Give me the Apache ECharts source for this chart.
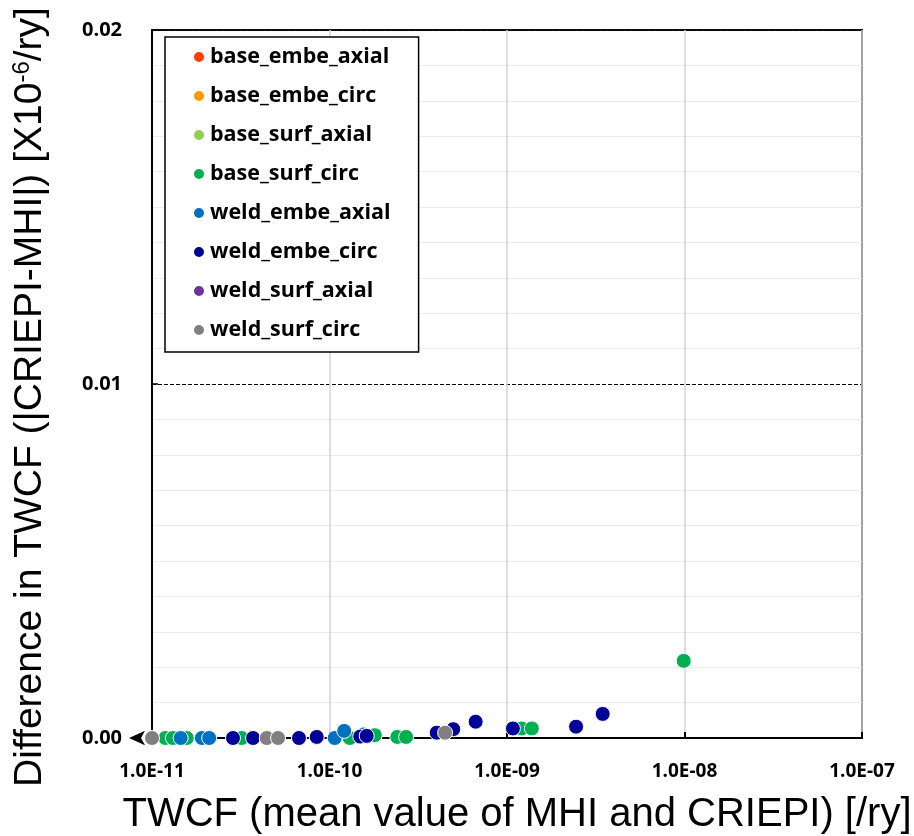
<!DOCTYPE html>
<html><head><meta charset="utf-8">
<script src="https://cdn.jsdelivr.net/npm/echarts@6/dist/echarts.min.js"></script>
<style>html,body{margin:0;padding:0;background:#fff}#c{width:914px;height:836px}</style>
</head><body><div id="c"></div>
<script>
// ---- data (x: TWCF mean [/ry], y: |CRIEPI-MHI| [x10^-6/ry]) ----
const seriesNames = ['base_embe_axial','base_embe_circ','base_surf_axial','base_surf_circ','weld_embe_axial','weld_embe_circ','weld_surf_axial','weld_surf_circ'];
const seriesColors = ['#FF3D00','#FF9900','#92D050','#00B050','#0070C0','#000099','#7030A0','#808080'];
const base_embe_axial = [];
const base_embe_circ = [];
const base_surf_axial = [];
const base_surf_circ = [[1.19e-11,0],[1.31e-11,0],[1.57e-11,0],[3.2e-11,0],[1.30e-10,0],[1.80e-10,0.00008],[2.41e-10,0.00003],[2.70e-10,0.00003],[1.21e-9,0.00027],[1.38e-9,0.00027],[9.9e-9,0.00218]];
const weld_embe_axial = [[1.45e-11,0],[1.91e-11,0],[2.1e-11,0],[1.07e-10,0],[1.21e-10,0.0002],[1.55e-10,0.0001]];
const weld_embe_circ = [[2.86e-11,0],[3.71e-11,0],[6.73e-11,0],[8.47e-11,0.00003],[1.49e-10,0.00004],[1.62e-10,0.00006],[4.02e-10,0.00015],[4.98e-10,0.00025],[6.66e-10,0.00046],[1.08e-9,0.00027],[2.45e-9,0.00032],[3.46e-9,0.00068]];
const weld_surf_axial = [];
const weld_surf_circ = [[1.0e-11,0],[4.43e-11,0],[5.13e-11,0],[4.48e-10,0.00015]];
const seriesData = [base_embe_axial,base_embe_circ,base_surf_axial,base_surf_circ,weld_embe_axial,weld_embe_circ,weld_surf_axial,weld_surf_circ];
const xTickLabels = ['1.0E-11','1.0E-10','1.0E-09','1.0E-08','1.0E-07'];
const yTickLabels = ['0.00','0.01','0.02'];
const xTitle = 'TWCF (mean value of MHI and CRIEPI) [/ry]';
const yTitleA = 'Difference in TWCF (|CRIEPI-MHI|) [X10';
const yTitleSup = '-6';
const yTitleB = '/ry]';

// minor log gridline positions (2..9 x each decade)
const minorX = [];
for (let e = -11; e <= -8; e++) for (let m = 2; m <= 9; m++) minorX.push({xAxis: m * Math.pow(10, e)});

const chart = echarts.init(document.getElementById('c'), null, {renderer: 'canvas'});
const tickFont = {fontFamily: 'Open Sans', fontWeight: 'bold', color: '#000'};
const series = seriesNames.map((n, i) => ({
  name: n, type: 'scatter', data: seriesData[i], symbol: 'circle', symbolSize: 15, z: 3,
  itemStyle: {color: seriesColors[i], borderColor: '#fff', borderWidth: 1, opacity: 1}
}));
series.unshift({
  name: '_grid', type: 'scatter', data: [], z: 1, silent: true,
  markLine: {silent: true, symbol: 'none', label: {show: false}, animation: false,
    lineStyle: {color: '#ececec', width: 1, type: 'solid'}, data: minorX}
});
chart.setOption({
  animation: false,
  grid: {left: 152, right: 52, top: 30, bottom: 98, containLabel: false, outerBoundsMode: 'none',
    show: true, borderColor: '#111', borderWidth: 2, backgroundColor: 'transparent'},
  legend: {
    data: seriesNames, orient: 'vertical', left: 165, top: 37, icon: 'circle', itemWidth: 12, itemHeight: 12,
    itemGap: 17, padding: [9, 28, 11, 27], borderColor: '#000', borderWidth: 1.5, backgroundColor: '#fff',
    textStyle: {fontFamily: 'Open Sans', fontWeight: 'bold', fontSize: 21.5, color: '#000'}
  },
  xAxis: {
    type: 'log', logBase: 10, min: 1e-11, max: 1e-7,
    name: xTitle, nameLocation: 'middle', nameGap: 57,
    nameTextStyle: {fontFamily: 'Liberation Sans', fontSize: 40, color: '#000', padding: [0, 0, 0, 20]},
    axisLine: {show: true, onZero: false, lineStyle: {color: '#000', width: 2}, symbol: ['arrow', 'none'], symbolSize: [11, 16], symbolOffset: [-23, 0]},
    axisTick: {show: true, inside: true, length: 6, lineStyle: {color: '#000', width: 2}},
    axisLabel: Object.assign({margin: 24, fontSize: 19, formatter: v => xTickLabels[Math.round(Math.log10(v)) + 11]}, tickFont),
    splitLine: {show: true, lineStyle: {color: '#d4d4d4', width: 1.5}},
    minorTick: {show: false}, minorSplitLine: {show: false}
  },
  yAxis: {
    type: 'value', min: 0, max: 0.02, interval: 0.01,
    name: '{a|' + yTitleA + '}{s|' + yTitleSup + '}{a|' + yTitleB + '}', nameLocation: 'middle', nameGap: 102,
    nameTextStyle: {padding: [0, 26, 0, 0], rich: {
      a: {fontFamily: 'Liberation Sans', fontSize: 39, color: '#000'},
      s: {fontFamily: 'Liberation Sans', fontSize: 24, color: '#000', verticalAlign: 'top', padding: [0, 0, 16, 0]}
    }},
    axisLine: {show: true, onZero: false, lineStyle: {color: '#000', width: 2}},
    axisTick: {show: true, inside: true, length: 6, lineStyle: {color: '#000', width: 1.5}},
    axisLabel: Object.assign({margin: 30, fontSize: 20, formatter: v => yTickLabels[Math.round(v / 0.01)]}, tickFont),
    splitLine: {show: true, lineStyle: {color: '#000', width: 1, type: [4, 2]}},
    minorTick: {show: false, splitNumber: 10},
    minorSplitLine: {show: true, lineStyle: {color: '#ececec', width: 1}}
  },
  series: series
});
</script></body></html>
